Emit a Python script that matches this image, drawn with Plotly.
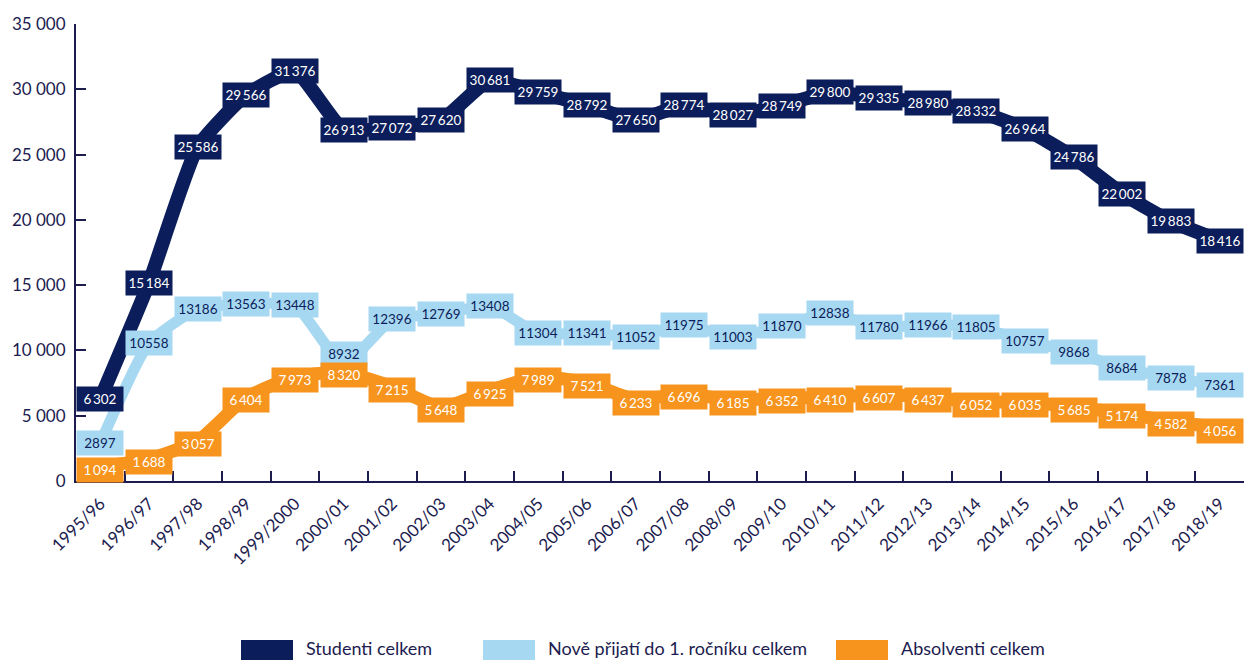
import plotly.graph_objects as go

years = ["1995/96", "1996/97", "1997/98", "1998/99", "1999/2000", "2000/01", "2001/02",
         "2002/03", "2003/04", "2004/05", "2005/06", "2006/07", "2007/08", "2008/09",
         "2009/10", "2010/11", "2011/12", "2012/13", "2013/14", "2014/15", "2015/16",
         "2016/17", "2017/18", "2018/19"]
studenti = [6302, 15184, 25586, 29566, 31376, 26913, 27072, 27620, 30681, 29759, 28792, 27650,
            28774, 28027, 28749, 29800, 29335, 28980, 28332, 26964, 24786, 22002, 19883, 18416]
prijati = [2897, 10558, 13186, 13563, 13448, 8932, 12396, 12769, 13408, 11304, 11341, 11052,
           11975, 11003, 11870, 12838, 11780, 11966, 11805, 10757, 9868, 8684, 7878, 7361]
absolventi = [1094, 1688, 3057, 6404, 7973, 8320, 7215, 5648, 6925, 7989, 7521, 6233,
              6696, 6185, 6352, 6410, 6607, 6437, 6052, 6035, 5685, 5174, 4582, 4056]
names = ["Studenti celkem", "Nově přijatí do 1. ročníku celkem", "Absolventi celkem"]
ytick_vals = [0, 5000, 10000, 15000, 20000, 25000, 30000, 35000]
ytick_text = ["0", "5\u00a0000", "10\u00a0000", "15\u00a0000", "20\u00a0000",
              "25\u00a0000", "30\u00a0000", "35\u00a0000"]

DARK = "#0b1d5b"
LIGHT = "#a7d8f1"
ORANGE = "#f7941d"
AXIS = "#1c1c4f"
FONT = "Lato"

fig = go.Figure()
series = [
    (absolventi, names[2], ORANGE, "white", True, 13, -3),
    (prijati, names[1], LIGHT, DARK, False, 11, 0),
    (studenti, names[0], DARK, "white", True, 14, 0),
]
for vals, nm, col, tcol, sep, lw, ys in series:
    fig.add_trace(go.Scatter(x=years, y=vals, name=nm, mode="lines",
                             line=dict(color=col, width=lw, shape="spline", smoothing=0.5),
                             showlegend=False, hoverinfo="x+y+name"))


def fmt(v, sep):
    s = f"{v:,}"
    return s.replace(",", "\u2009") if sep else s.replace(",", "")


for vals, nm, col, tcol, sep, lw, ys in [series[2], series[1], series[0]]:
    for i, (x, v) in enumerate(zip(years, vals)):
        shift = ys
        # lift a label that would otherwise collide with the series below it
        if vals is prijati and abs(prijati[i] - absolventi[i]) < 1200:
            shift = 10
        fig.add_annotation(x=x, y=v, xref="x", yref="y", text=fmt(v, sep), showarrow=False,
                           bgcolor=col, width=46, height=24, borderpad=0, yshift=shift,
                           font=dict(family=FONT, size=13.5, color=tcol))

# manual legend
leg = [(241, names[0], DARK), (483, names[1], LIGHT), (836, names[2], ORANGE)]
L, T, W, H = 76, 24, 1168, 457
def px(xp):
    return (xp - L) / W
def py(yp):
    return (T + H - yp) / H
for x0, nm, col in leg:
    fig.add_shape(type="rect", xref="paper", yref="paper", x0=px(x0), x1=px(x0 + 52),
                  y0=py(661), y1=py(640), fillcolor=col, line=dict(width=0))
    fig.add_annotation(xref="paper", yref="paper", x=px(x0 + 63), y=py(648), text=nm,
                       showarrow=False, xanchor="left", yanchor="middle",
                       font=dict(family=FONT, size=18, color=AXIS))

fig.update_layout(
    width=1244, height=660,
    margin=dict(l=L, r=0, t=T, b=660 - T - H),
    plot_bgcolor="white", paper_bgcolor="white",
    font=dict(family=FONT, size=16, color=AXIS),
    xaxis=dict(type="category", range=[-0.5, 23.5], showline=True, linecolor=AXIS, linewidth=2,
               ticks="inside", ticklen=10, tickwidth=2, tickcolor=AXIS, tickson="boundaries",
               tickangle=-45, showgrid=False, zeroline=False, ticklabelstandoff=4,
               tickfont=dict(family=FONT, size=17, color=AXIS)),
    yaxis=dict(range=[0, 35000], tickvals=ytick_vals, ticktext=ytick_text,
               showline=True, linecolor=AXIS, linewidth=2, ticks="inside", ticklen=10,
               tickwidth=2, tickcolor=AXIS, showgrid=False, zeroline=False,
               ticklabelstandoff=5,
               tickfont=dict(family=FONT, size=17, color=AXIS)),
)

fig.write_html("out.html", config={"displayModeBar": False},
               post_script="document.body.style.margin='0';")
